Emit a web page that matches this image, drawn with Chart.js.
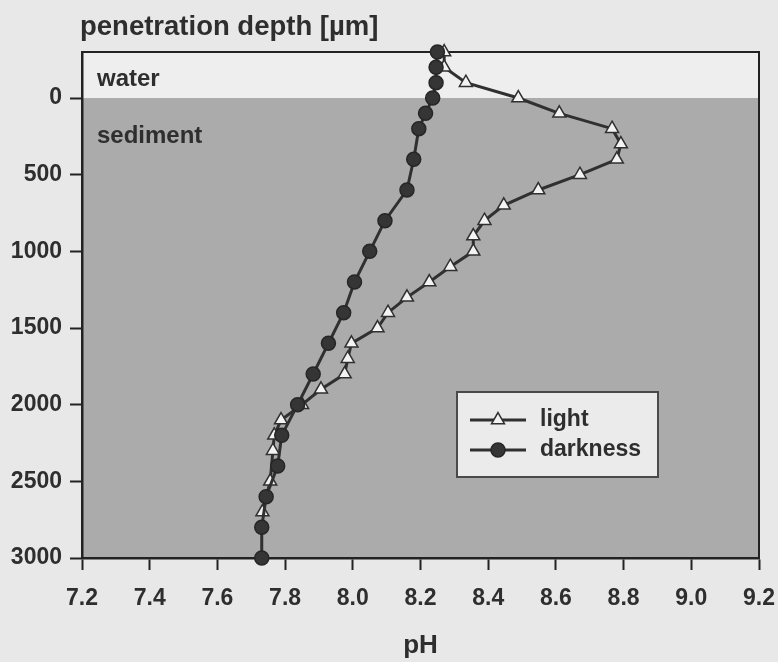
<!DOCTYPE html>
<html lang="en">
  <head>
    <meta charset="UTF-8" />
    <title>pH profile</title>
    <script src="https://cdn.jsdelivr.net/npm/chart.js"></script>
    <style>
      html,
      body {
        margin: 0;
        padding: 0;
        background: #e8e8e8;
      }
      canvas {
        display: block;
      }
    </style>
  </head>
  <body>
    <canvas id="phChart" width="778" height="662"></canvas>
    <script>
      // depth in µm, negative values are in the water above the sediment
      const lightDepth = [
        -300, -200, -100, 0, 100, 200, 300, 400, 500, 600, 700, 800, 900, 1000,
        1100, 1200, 1300, 1400, 1500, 1600, 1700, 1800, 1900, 2000, 2100, 2200,
        2300, 2500, 2700,
      ];
      const lightPH = [
        8.27, 8.27, 8.334, 8.489, 8.61, 8.766, 8.792, 8.78, 8.671, 8.548, 8.446,
        8.389, 8.356, 8.356, 8.288, 8.226, 8.16, 8.104, 8.073, 7.996, 7.985,
        7.976, 7.906, 7.85, 7.788, 7.768, 7.764, 7.756, 7.733,
      ];
      const darkDepth = [
        -300, -200, -100, 0, 100, 200, 400, 600, 800, 1000, 1200, 1400, 1600,
        1800, 2000, 2200, 2400, 2600, 2800, 3000,
      ];
      const darkPH = [
        8.25, 8.246, 8.246, 8.236, 8.215, 8.195, 8.18, 8.16, 8.095, 8.05, 8.005,
        7.973, 7.928, 7.883, 7.837, 7.79, 7.778, 7.744, 7.731, 7.731,
      ];
      const seriesNames = ["light", "darkness"];
      const xTicks = [7.2, 7.4, 7.6, 7.8, 8.0, 8.2, 8.4, 8.6, 8.8, 9.0, 9.2];
      const yTicks = [0, 500, 1000, 1500, 2000, 2500, 3000];
      const zoneNames = ["water", "sediment"];

      const FONT = "'Liberation Sans', Arial, sans-serif";
      const INK = "#2e2e2e";
      Chart.defaults.font.family = FONT;
      Chart.defaults.font.weight = "bold";
      Chart.defaults.color = INK;

      const toPoints = (depths, values) =>
        depths.map((d, i) => ({ x: values[i], y: d }));

      // fills water / sediment, frame, zone labels and the top axis caption
      const backdrop = {
        id: "backdrop",
        beforeDraw(chart) {
          const { ctx, chartArea: a, scales } = chart;
          const y0 = scales.y.getPixelForValue(0);
          ctx.save();
          ctx.fillStyle = "#eeeeee";
          ctx.fillRect(a.left, a.top, a.right - a.left, y0 - a.top);
          ctx.fillStyle = "#ababab";
          ctx.fillRect(a.left, y0, a.right - a.left, a.bottom - y0);

          ctx.strokeStyle = "#222";
          ctx.lineWidth = 2;
          ctx.beginPath();
          ctx.moveTo(a.left, a.top);
          ctx.lineTo(a.right, a.top);
          ctx.lineTo(a.right, a.bottom);
          ctx.stroke();

          ctx.fillStyle = INK;
          ctx.textBaseline = "alphabetic";
          ctx.font = "bold 24px " + FONT;
          ctx.fillText(zoneNames[0], a.left + 15, y0 - 12);
          ctx.fillText(zoneNames[1], a.left + 15, y0 + 45);

          ctx.font = "bold 27.5px " + FONT;
          ctx.fillText("penetration depth [µm]", 80, 35);
          ctx.restore();
        },
      };

      // legend box inside the plot
      const insetLegend = {
        id: "insetLegend",
        afterDraw(chart) {
          const { ctx } = chart;
          ctx.save();
          ctx.fillStyle = "#ebebeb";
          ctx.strokeStyle = "#4a4a4a";
          ctx.lineWidth = 2;
          ctx.fillRect(457, 392, 201, 85);
          ctx.strokeRect(457, 392, 201, 85);
          chart.data.datasets.forEach((ds, i) => {
            const y = 420 + i * 30;
            ctx.strokeStyle = ds.borderColor;
            ctx.lineWidth = ds.borderWidth;
            ctx.beginPath();
            ctx.moveTo(470, y);
            ctx.lineTo(526, y);
            ctx.stroke();
            ctx.fillStyle = ds.pointBackgroundColor;
            ctx.strokeStyle = ds.pointBorderColor;
            ctx.lineWidth = ds.pointBorderWidth;
            Chart.helpers.drawPoint(
              ctx,
              {
                pointStyle: ds.pointStyle,
                radius: ds.pointRadius,
                borderWidth: ds.pointBorderWidth,
                rotation: 0,
              },
              498,
              y
            );
            ctx.fillStyle = INK;
            ctx.font = "bold 23px " + FONT;
            ctx.textBaseline = "middle";
            ctx.fillText(ds.label, 540, y);
          });
          ctx.restore();
        },
      };

      const ctx = document.getElementById("phChart").getContext("2d");
      new Chart(ctx, {
        type: "scatter",
        data: {
          datasets: [
            {
              label: seriesNames[0],
              data: toPoints(lightDepth, lightPH),
              showLine: true,
              borderColor: "#303030",
              borderWidth: 3,
              pointStyle: "triangle",
              pointRadius: 7.5,
              pointBackgroundColor: "#f3f3f3",
              pointBorderColor: "#303030",
              pointBorderWidth: 1.5,
              clip: false,
              order: 2,
            },
            {
              label: seriesNames[1],
              data: toPoints(darkDepth, darkPH),
              showLine: true,
              borderColor: "#303030",
              borderWidth: 3,
              pointStyle: "circle",
              pointRadius: 7,
              pointBackgroundColor: "#353535",
              pointBorderColor: "#262626",
              pointBorderWidth: 1.5,
              clip: false,
              order: 1,
            },
          ],
        },
        options: {
          responsive: false,
          animation: false,
          devicePixelRatio: 1,
          layout: { padding: { top: 52, right: 19, left: 0, bottom: 0 } },
          plugins: {
            legend: { display: false },
            tooltip: { enabled: false },
          },
          scales: {
            x: {
              type: "linear",
              min: 7.2,
              max: 9.2,
              afterBuildTicks: (s) => {
                s.ticks = xTicks.map((v) => ({ value: v }));
              },
              afterFit: (s) => {
                s.height = 104;
                s.paddingLeft = 0;
                s.paddingRight = 0;
              },
              ticks: {
                font: { size: 23, weight: "bold" },
                padding: 15,
                maxRotation: 0,
                callback: (v) => Number(v).toFixed(1),
              },
              grid: {
                drawOnChartArea: false,
                tickLength: 12,
                tickWidth: 2,
                tickColor: "#222",
              },
              border: { color: "#222", width: 2.5 },
              title: {
                display: true,
                text: "pH",
                font: { size: 26, weight: "bold" },
                padding: { top: 0, bottom: 1 },
              },
            },
            y: {
              type: "linear",
              reverse: true,
              min: -300,
              max: 3000,
              afterBuildTicks: (s) => {
                s.ticks = yTicks.map((v) => ({ value: v }));
              },
              afterFit: (s) => {
                s.width = 82;
                s.paddingTop = 0;
                s.paddingBottom = 0;
              },
              ticks: {
                font: { size: 23, weight: "bold" },
                padding: 8,
                callback: (v) => String(v),
              },
              grid: {
                drawOnChartArea: false,
                tickLength: 12,
                tickWidth: 2,
                tickColor: "#222",
              },
              border: { color: "#222", width: 2.5 },
            },
          },
        },
        plugins: [backdrop, insetLegend],
      });
    </script>
  </body>
</html>
